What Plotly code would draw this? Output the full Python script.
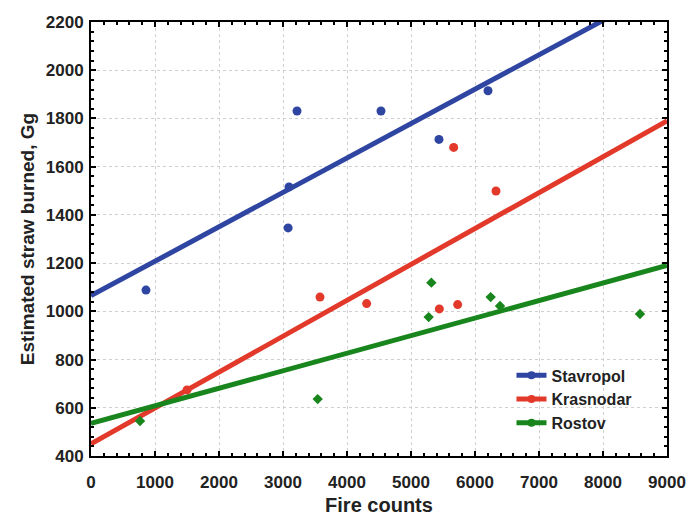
import plotly.graph_objects as go

# Data
stav_x = [859, 3219, 4531, 3094, 3080, 5437, 6203]
stav_y = [1088, 1831, 1831, 1516, 1346, 1713, 1915]
kras_x = [1500, 3578, 4307, 5443, 5729, 5667, 6328]
kras_y = [674, 1059, 1032, 1010, 1028, 1680, 1499]
rost_x = [766, 3542, 5276, 5318, 6245, 6391, 8578]
rost_y = [545, 636, 976, 1119, 1059, 1022, 989]

# Regression lines (intercept, slope)
fits = {
    "Stavropol": (1065, 0.1427),
    "Krasnodar": (450, 0.1489),
    "Rostov": (535, 0.0728),
}
line_x = [0, 9000]

colors = {"Stavropol": "#2f45a2", "Krasnodar": "#e2392b", "Rostov": "#18861c"}
symbols = {"Stavropol": "circle", "Krasnodar": "circle", "Rostov": "diamond"}
series = {
    "Stavropol": (stav_x, stav_y),
    "Krasnodar": (kras_x, kras_y),
    "Rostov": (rost_x, rost_y),
}

fig = go.Figure()
for name, (xs, ys) in series.items():
    b0, b1 = fits[name]
    fig.add_trace(go.Scatter(
        x=line_x, y=[b0 + b1 * v for v in line_x], mode="lines",
        line=dict(color=colors[name], width=5), showlegend=False, hoverinfo="skip"))
for name, (xs, ys) in series.items():
    fig.add_trace(go.Scatter(
        x=xs, y=ys, mode="markers", showlegend=False,
        marker=dict(color=colors[name], symbol=symbols[name],
                    size=9 if symbols[name] == "circle" else 8)))
for name in series:
    fig.add_trace(go.Scatter(
        x=[None], y=[None], mode="lines+markers", name=name,
        line=dict(color=colors[name], width=5),
        marker=dict(color=colors[name], symbol="circle", size=8)))

axis_common = dict(
    showline=True, linecolor="black", linewidth=2, mirror="ticks",
    ticks="inside", ticklen=5, tickwidth=1.5, tickcolor="black",
    showgrid=True, gridcolor="#cfcfcf", griddash="dot", gridwidth=1,
    zeroline=False, automargin=False,
    tickfont=dict(family="Liberation Sans", size=17, color="#222222", weight="bold"),
)

fig.update_layout(
    width=690, height=516,
    margin=dict(l=91, r=23, t=22, b=60),
    paper_bgcolor="white", plot_bgcolor="white",
    font=dict(family="Liberation Sans", color="#222222"),
    xaxis=dict(range=[0, 9000], dtick=1000, ticklabelstandoff=10,
               minor=dict(ticks="inside", dtick=200, ticklen=3, tickcolor="black", showgrid=False),
               title=dict(text="Fire counts", standoff=9,
                          font=dict(size=20, weight="bold", color="#222222")),
               **axis_common),
    yaxis=dict(range=[400, 2200], dtick=200, ticklabelstandoff=2,
               minor=dict(ticks="inside", dtick=40, ticklen=3, tickcolor="black", showgrid=False),
               title=dict(text="Estimated straw burned, Gg", standoff=6,
                          font=dict(size=19, weight="bold", color="#222222")),
               **axis_common),
    legend=dict(x=0.73, y=0.225, xanchor="left", yanchor="top",
                bgcolor="rgba(0,0,0,0)", tracegroupgap=0, itemwidth=30,
                font=dict(family="Liberation Sans", size=16, weight="bold", color="#222222")),
)

fig.write_html("out.html", config={"displayModeBar": False},
               post_script="document.body.style.margin='0';document.body.style.overflow='hidden';")
